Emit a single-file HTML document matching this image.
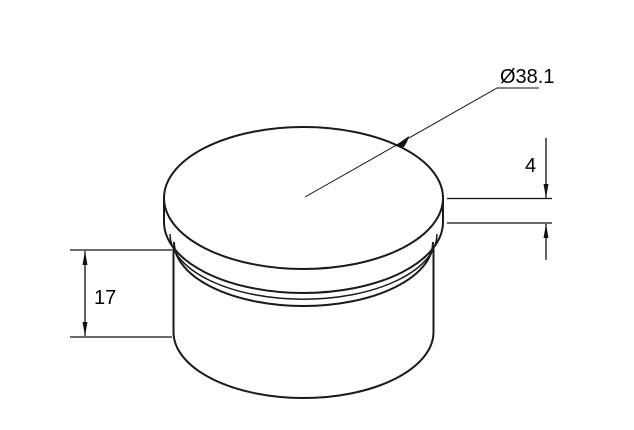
<!DOCTYPE html>
<html><head><meta charset="utf-8"><style>
html,body{margin:0;padding:0;background:#fff;}
svg{display:block;}
text{font-family:"Liberation Sans",sans-serif;fill:#000;}
</style></head><body>
<svg width="634" height="430" viewBox="0 0 634 430" xmlns="http://www.w3.org/2000/svg">
<g fill="none" stroke="#1a1a1a" stroke-width="2">
  <ellipse cx="303.5" cy="198" rx="139.5" ry="71"/>
  <line x1="164" y1="198" x2="164" y2="222"/>
  <line x1="443" y1="198" x2="443" y2="222"/>
  <path d="M164 222 A139.5 71 0 0 0 443 222"/>
  <path d="M174 242 A129.5 64 0 0 0 433 242"/>
  <path d="M170 234 A133 65 0 0 0 437 234" stroke-width="1.5"/>
  <line x1="173.5" y1="248" x2="173.5" y2="334"/>
  <line x1="433.5" y1="248" x2="433.5" y2="334"/>
  <path d="M173.5 332 A130 66 0 0 0 433.5 332"/>
</g>
<g fill="none" stroke="#111" stroke-width="1.3">
  <line x1="70" y1="250" x2="172" y2="250"/>
  <line x1="70" y1="337" x2="172" y2="337"/>
  <line x1="85" y1="251" x2="85" y2="336"/>
  <line x1="447" y1="198.5" x2="552" y2="198.5"/>
  <line x1="447" y1="223" x2="552" y2="223"/>
  <line x1="546" y1="138" x2="546" y2="198"/>
  <line x1="546" y1="224" x2="546" y2="260"/>
  <polyline points="305,197 497,88 539,88" stroke-width="1"/>
</g>
<g fill="#111">
  <polygon points="85,251 82.5,265 87.5,265"/>
  <polygon points="85,336 82.5,322 87.5,322"/>
  <polygon points="546,198 543.5,184 548.5,184"/>
  <polygon points="546,224 543.5,238 548.5,238"/>
  <polygon points="395,146 409,136 407,142 404,147"/>
</g>
<text x="94" y="304" font-size="20">17</text>
<text x="525" y="172" font-size="20">4</text>
<text x="500" y="83" font-size="20">Ø38.1</text>
</svg>
</body></html>
